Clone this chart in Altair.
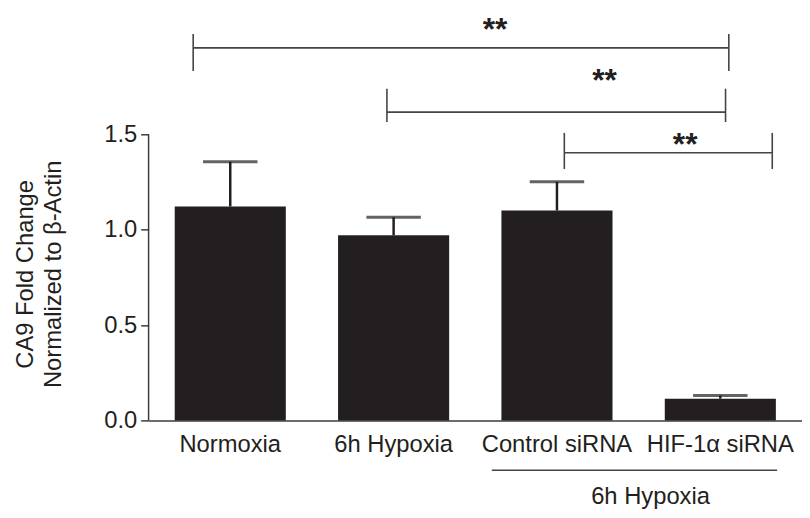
import altair as alt
import pandas as pd

# ---- data ----
categories = ["Normoxia", "6h Hypoxia", "Control siRNA", "HIF-1α siRNA"]
means = [1.122, 0.971, 1.101, 0.114]
errors = [0.235, 0.095, 0.151, 0.017]

# significance brackets: x in group units (0..4 across the plot), y in data units
br_x1 = [0.273, 1.459, 2.545]
br_x2 = [3.552, 3.532, 3.818]
br_y = [1.954, 1.617, 1.404]
br_top = [2.027, 1.740, 1.508]
br_bot = [1.833, 1.565, 1.319]
star_x = [2.121, 2.791, 3.285]
star_y = [1.996, 1.730, 1.393]
star_labels = ["**", "**", "**"]

# group annotation below the axis
group_label = ["6h Hypoxia"]
group_x1 = [2.101]
group_x2 = [3.848]
group_line_y = [-0.261]
group_text_x = [3.073]
group_text_y = [-0.441]

y_ticks = [0.0, 0.5, 1.0, 1.5]

FONT = "Liberation Sans"
DARK = "#231f20"
LINE = "#3c3c3c"
FS = 24

bars_df = pd.DataFrame({"cat": categories, "mean": means, "err": errors})
bars_df["upper"] = bars_df["mean"] + bars_df["err"]

br_df = pd.DataFrame({"x1": br_x1, "x2": br_x2, "y": br_y, "top": br_top, "bot": br_bot})
star_df = pd.DataFrame({"x": star_x, "y": star_y, "t": star_labels})
grp_df = pd.DataFrame({"x1": group_x1, "x2": group_x2, "y": group_line_y,
                       "tx": group_text_x, "ty": group_text_y, "t": group_label})
axis_df = pd.DataFrame({"lo": [y_ticks[0]], "hi": [y_ticks[-1]]})

yscale = alt.Scale(domain=[0, 2.15], nice=False, zero=False)
xq = alt.Scale(domain=[0, 4], nice=False, zero=False)

xband = alt.X(
    "cat:N", sort=categories,
    scale=alt.Scale(paddingInner=0.32, paddingOuter=0.16),
    axis=alt.Axis(title=None, labelAngle=0, ticks=False, tickSize=0, labelPadding=12,
                  labelFontSize=FS, labelColor=DARK, labelFont=FONT,
                  domainColor=LINE, domainWidth=1.5, grid=False),
)

yaxis = alt.Axis(
    values=y_ticks, format=".1f", domain=False, grid=False,
    tickSize=8, tickWidth=1.5, tickColor=LINE,
    labelFontSize=FS, labelPadding=4, labelColor=DARK, labelFont=FONT,
    labelFlush=False, labelOverlap=False,
    title=["CA9 Fold Change", "Normalized to β-Actin"],
    titleFontSize=FS, titleFontWeight="normal", titleFont=FONT, titleColor=DARK,
    titleAngle=270, titleAlign="center", titleBaseline="alphabetic",
    titleLineHeight=28.5, titleX=-117, titleY=266,
)

bars = alt.Chart(bars_df).mark_bar(color=DARK).encode(
    x=xband,
    y=alt.Y("mean:Q", scale=yscale, axis=yaxis),
)

err_line = alt.Chart(bars_df).mark_rule(color=DARK, strokeWidth=2.5).encode(
    x=alt.X("cat:N", sort=categories),
    y=alt.Y("mean:Q", scale=yscale),
    y2="upper:Q",
)

err_cap = alt.Chart(bars_df).mark_tick(color=DARK, thickness=3, size=55).encode(
    x=alt.X("cat:N", sort=categories),
    y=alt.Y("upper:Q", scale=yscale),
)

y_line = alt.Chart(axis_df).mark_rule(color=LINE, strokeWidth=1.5).encode(
    x=alt.value(0),
    y=alt.Y("lo:Q", scale=yscale),
    y2="hi:Q",
)

band_layer = alt.layer(bars, err_line, err_cap, y_line)

br_h = alt.Chart(br_df).mark_rule(color="#444444", strokeWidth=1.6).encode(
    x=alt.X("x1:Q", scale=xq, axis=None), x2="x2:Q",
    y=alt.Y("y:Q", scale=yscale),
)
br_l = alt.Chart(br_df).mark_rule(color="#444444", strokeWidth=1.6).encode(
    x=alt.X("x1:Q", scale=xq, axis=None),
    y=alt.Y("top:Q", scale=yscale), y2="bot:Q",
)
br_r = alt.Chart(br_df).mark_rule(color="#444444", strokeWidth=1.6).encode(
    x=alt.X("x2:Q", scale=xq, axis=None),
    y=alt.Y("top:Q", scale=yscale), y2="bot:Q",
)
stars = alt.Chart(star_df).mark_text(
    font=FONT, fontSize=32, fontWeight="bold", color=DARK, align="center", baseline="alphabetic"
).encode(
    x=alt.X("x:Q", scale=xq, axis=None),
    y=alt.Y("y:Q", scale=yscale),
    text="t:N",
)
grp_line = alt.Chart(grp_df).mark_rule(color="#444444", strokeWidth=1.5).encode(
    x=alt.X("x1:Q", scale=xq, axis=None), x2="x2:Q",
    y=alt.Y("y:Q", scale=yscale),
)
grp_text = alt.Chart(grp_df).mark_text(
    font=FONT, fontSize=FS, color=DARK, align="center", baseline="alphabetic"
).encode(
    x=alt.X("tx:Q", scale=xq, axis=None),
    y=alt.Y("ty:Q", scale=yscale),
    text="t:N",
)

annot_layer = alt.layer(br_h, br_l, br_r, stars, grp_line, grp_text)

chart = (
    alt.layer(band_layer, annot_layer)
    .resolve_scale(x="independent")
    .properties(
        width=660, height=414,
        padding={"left": 142, "top": 0, "right": 0, "bottom": 94},
        autosize=alt.AutoSizeParams(type="none"),
        background="white",
    )
    .configure_view(stroke=None)
)

chart.save("out.html", embed_options={"renderer": "svg", "actions": False})
